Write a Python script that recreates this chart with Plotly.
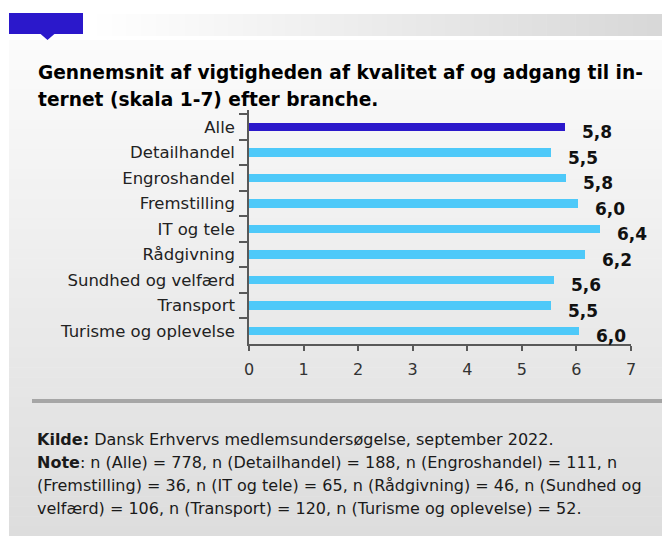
import plotly.graph_objects as go

categories = ["Alle", "Detailhandel", "Engroshandel", "Fremstilling", "IT og tele",
              "Rådgivning", "Sundhed og velfærd", "Transport", "Turisme og oplevelse"]
values = [5.79, 5.54, 5.81, 6.03, 6.43, 6.16, 5.59, 5.53, 6.04]
x_ticks = [0, 1, 2, 3, 4, 5, 6, 7]

title_lines = ["Gennemsnit af vigtigheden af kvalitet af og adgang til in-",
               "ternet (skala 1-7) efter branche."]
footer_lines = [
    "<b>Kilde:</b> Dansk Erhvervs medlemsundersøgelse, september 2022.",
    "<b>Note</b>: n (Alle) = 778, n (Detailhandel) = 188, n (Engroshandel) = 111, n",
    "(Fremstilling) = 36, n (IT og tele) = 65, n (Rådgivning) = 46, n (Sundhed og",
    "velfærd) = 106, n (Transport) = 120, n (Turisme og oplevelse) = 52.",
]

W, H = 662, 536
L, R_X, T, B_Y = 249, 631, 110, 344
PW, PH = R_X - L, B_Y - T
FONT = "DejaVu Sans"

def px(X):
    return (X - L) / PW

def py(Y):
    return (B_Y - Y) / PH

DARK = "#2B18CB"
LIGHT = "#4EC9F9"
colors = [DARK if c == "Alle" else LIGHT for c in categories]

fig = go.Figure()
fig.add_trace(go.Bar(
    x=values, y=categories, orientation="h", width=0.33,
    marker=dict(color=colors, line=dict(width=0)),
    hoverinfo="skip",
))

shapes = []
n = 50
top, bot = 40, 536
for i in range(n):
    y0 = top + (bot - top) * i / n
    y1 = top + (bot - top) * (i + 1) / n + 0.5
    t = i / (n - 1)
    g = round(251 - t * (251 - 221))
    shapes.append(dict(type="rect", xref="paper", yref="paper", layer="below",
                       x0=px(9), x1=px(662), y0=py(y1), y1=py(y0),
                       fillcolor=f"rgb({g},{g},{g})", line=dict(width=0)))
m = 40
for i in range(m):
    x0 = 83 + (662 - 83) * i / m
    x1 = 83 + (662 - 83) * (i + 1) / m + 0.5
    t = i / (m - 1)
    g = round(255 - t * (255 - 216))
    shapes.append(dict(type="rect", xref="paper", yref="paper", layer="below",
                       x0=px(x0), x1=px(x1), y0=py(36), y1=py(14),
                       fillcolor=f"rgb({g},{g},{g})", line=dict(width=0)))
shapes.append(dict(type="rect", xref="paper", yref="paper", layer="below",
                   x0=px(9), x1=px(83), y0=py(34), y1=py(13),
                   fillcolor="#2B18CB", line=dict(width=0)))
shapes.append(dict(type="path", xref="paper", yref="paper", layer="below",
                   path=f"M {px(40)},{py(33.5)} L {px(55)},{py(33.5)} L {px(47.5)},{py(40)} Z",
                   fillcolor="#2B18CB", line=dict(width=0)))
shapes.append(dict(type="rect", xref="paper", yref="paper", layer="below",
                   x0=px(32), x1=px(662), y0=py(403), y1=py(399),
                   fillcolor="#a6a6a6", line=dict(width=0)))

annotations = []
for c, v in zip(categories, values):
    annotations.append(dict(
        x=v, y=c, xref="x", yref="y", text="<b>" + f"{v:.1f}".replace(".", ",") + "</b>",
        showarrow=False, xanchor="left", yanchor="middle", xshift=15, yshift=-5,
        font=dict(family=FONT, size=17, color="#111111"),
    ))
for i, line in enumerate(title_lines):
    annotations.append(dict(
        x=px(36), y=py(73 + 27 * i), xref="paper", yref="paper", text=f"<b>{line}</b>",
        showarrow=False, xanchor="left", yanchor="middle",
        font=dict(family=FONT, size=18.6, color="#000000"),
    ))
for i, line in enumerate(footer_lines):
    annotations.append(dict(
        x=px(35), y=py(440 + 22.7 * i), xref="paper", yref="paper", text=line,
        showarrow=False, xanchor="left", yanchor="middle",
        font=dict(family=FONT, size=16, color="#1a1a1a"),
    ))

fig.update_layout(
    width=W, height=H, autosize=False,
    margin=dict(l=L, r=W - R_X, t=T, b=H - B_Y, pad=0),
    paper_bgcolor="white", plot_bgcolor="rgba(0,0,0,0)",
    showlegend=False, bargap=0,
    shapes=shapes, annotations=annotations,
    xaxis=dict(range=[0, 7], tickvals=x_ticks, showgrid=False, zeroline=False,
               showline=True, linecolor="#595959", linewidth=1.5,
               ticks="outside", ticklen=5, tickcolor="#595959", tickwidth=1.5,
               ticklabelstandoff=5,
               tickfont=dict(family=FONT, size=16, color="#333333"), fixedrange=True),
    yaxis=dict(categoryorder="array", categoryarray=categories, autorange="reversed",
               showgrid=False, zeroline=False, showline=True, linecolor="#595959", linewidth=1.5,
               ticks="outside", tickson="boundaries", ticklen=8, tickcolor="#595959", tickwidth=1.5,
               ticklabelstandoff=9,
               tickfont=dict(family=FONT, size=16.5, color="#222222"), fixedrange=True),
)

fig.write_html("out.html", config={"displayModeBar": False},
               post_script="document.body.style.margin='0';document.body.style.overflow='hidden';")
